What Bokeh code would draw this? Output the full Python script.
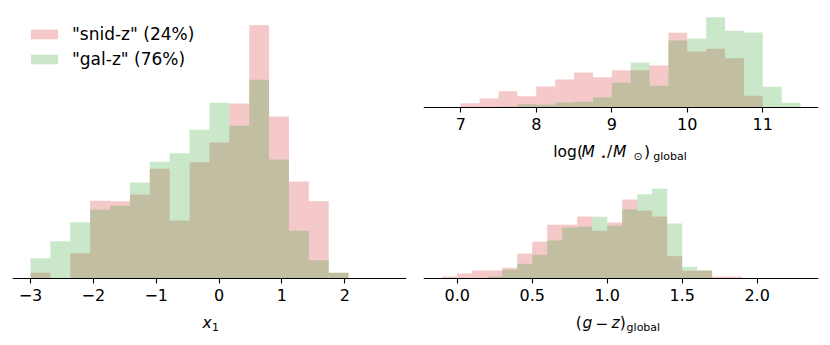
import numpy as np
from bokeh.plotting import figure
from bokeh.layouts import row, column
from bokeh.models import Range1d, Label, Legend, LegendItem, FixedTicker
from bokeh.embed import file_html
from bokeh.resources import INLINE

# ---------------- data (histogram heights, arbitrary units) ----------------
x1_edges = np.linspace(-3.0, 2.06, 17)
x1_snid = [17, 0, 76, 233, 232, 252, 329, 174, 349, 408, 525, 760, 486, 291, 232, 17]
x1_gal = [61, 112, 169, 206, 218, 288, 350, 376, 446, 527, 458, 596, 357, 143, 55, 17]

mass_edges = np.linspace(7.0, 11.5, 19)
mass_snid = [13, 27, 49, 34, 63, 84, 105, 91, 112, 112, 126, 224, 168, 176, 148, 35, 0, 0]
mass_gal = [0, 0, 3, 10, 8, 15, 17, 31, 74, 135, 65, 201, 207, 271, 230, 225, 62, 14]

gz_edges = np.linspace(-0.1, 1.9, 21)
gz_snid = [6, 15, 24, 24, 32, 75, 110, 161, 161, 186, 143, 168, 237, 204, 186, 67, 23, 24, 6, 6]
gz_gal = [0, 0, 0, 6, 26, 44, 71, 114, 153, 155, 185, 158, 208, 253, 269, 165, 35, 24, 0, 0]

x1_ticks = [-3, -2, -1, 0, 1, 2]
mass_ticks = [7, 8, 9, 10, 11]
gz_ticks = [0.0, 0.5, 1.0, 1.5, 2.0]

labels = ['"snid-z" (24%)', '"gal-z" (76%)']
PINK = "#d62728"
GREEN = "#2ca02c"
ALPHA = 0.25
FONT = "DejaVu Sans"
TICK_SIZE = "16px"
MAIN = 15.5
SUB = 11


def make_fig(width, height, xr, yr, mb_left, mb_right, mb_top, mb_bottom):
    p = figure(width=width, height=height, x_range=Range1d(*xr), y_range=Range1d(*yr),
               output_backend="svg", toolbar_location=None, y_axis_location=None,
               min_border_left=mb_left, min_border_right=mb_right,
               min_border_top=mb_top, min_border_bottom=mb_bottom)
    p.outline_line_color = None
    p.xgrid.visible = False
    p.ygrid.visible = False
    p.background_fill_color = "white"
    p.border_fill_color = "white"
    ax = p.xaxis[0]
    ax.fixed_location = 0
    ax.axis_line_color = "black"
    ax.axis_line_width = 1.1
    ax.major_tick_line_color = "black"
    ax.major_tick_line_width = 1.1
    ax.major_tick_out = 5
    ax.major_tick_in = 0
    ax.minor_tick_line_color = None
    ax.major_label_text_font = FONT
    ax.major_label_text_font_size = TICK_SIZE
    ax.major_label_text_color = "black"
    ax.major_label_standoff = 5
    return p


def hist(p, edges, snid, gal):
    r1 = p.quad(left=edges[:-1], right=edges[1:], bottom=0, top=snid,
                fill_color=PINK, fill_alpha=ALPHA, line_color=None)
    r2 = p.quad(left=edges[:-1], right=edges[1:], bottom=0, top=gal,
                fill_color=GREEN, fill_alpha=ALPHA, line_color=None)
    return r1, r2


def set_ticks(p, ticks, fmt):
    p.xaxis[0].ticker = FixedTicker(ticks=ticks)
    p.xaxis[0].major_label_overrides = {t: fmt(t).replace("-", "\u2212") for t in ticks}


def add_pieces(p, xc, pieces, fc):
    # pieces: (text, page_x, size, italic, depth of baseline below axis)
    for txt, px, size, ital, dy in pieces:
        p.add_layout(Label(x=xc, y=0, x_offset=px - fc, y_offset=-dy, text=txt,
                           text_font=FONT, text_font_size=f"{size}px",
                           text_font_style="italic" if ital else "normal",
                           text_align="left", text_baseline="alphabetic",
                           text_color="black"))


# ---------------- left: x1 ----------------
xr1 = (-3.286, 2.981)
p1 = make_fig(411, 342, xr1, (-192, 798), 12, 5, 12, 0)
r1, r2 = hist(p1, x1_edges, x1_snid, x1_gal)
set_ticks(p1, x1_ticks, lambda t: str(t))
legend = Legend(items=[LegendItem(label=labels[0], renderers=[r1]),
                       LegendItem(label=labels[1], renderers=[r2])],
                location=(15, 273), padding=0, margin=0, spacing=5,
                glyph_width=34, glyph_height=12, label_height=20,
                label_standoff=11, label_text_font=FONT, label_text_font_size="17px",
                label_text_color="black", border_line_alpha=0, background_fill_alpha=0)
p1.add_layout(legend)
add_pieces(p1, sum(xr1) / 2, [("x", 202, MAIN, True, 44.5),
                              ("1", 211.5, SUB, False, 48.5)], 209)

# ---------------- top right: mass ----------------
xr2 = (6.506, 11.738)
p2 = make_fig(412, 162, xr2, (-165, 285), 12, 5, 12, 0)
hist(p2, mass_edges, mass_snid, mass_gal)
set_ticks(p2, mass_ticks, lambda t: str(t))
add_pieces(p2, sum(xr2) / 2, [("log(", 552.8, MAIN, False, 44.5),
                              ("M", 581, MAIN, True, 44.5),
                              ("\u22c6", 599.5, SUB, False, 48.5),
                              ("/", 606.5, MAIN, False, 44.5),
                              ("M", 612.5, MAIN, True, 44.5),
                              ("\u2299", 633, SUB, False, 48.5),
                              (")", 643.5, MAIN, False, 44.5),
                              ("global", 652.7, SUB, False, 49)], 620.5)

# ---------------- bottom right: g-z ----------------
xr3 = (-0.2247, 2.409)
p3 = make_fig(412, 180, xr3, (-192, 282), 12, 5, 22, 0)
hist(p3, gz_edges, gz_snid, gz_gal)
set_ticks(p3, gz_ticks, lambda t: f"{t:.1f}")
add_pieces(p3, sum(xr3) / 2, [("(", 575.2, MAIN, False, 44.5),
                              ("g", 582, MAIN, True, 44.5),
                              ("\u2212", 595, MAIN, False, 44.5),
                              ("z", 611, MAIN, True, 44.5),
                              (")", 619.2, MAIN, False, 44.5),
                              ("global", 626.1, SUB, False, 49)], 620.5)

layout = row(p1, column(p2, p3))
open("out.html", "w").write(file_html(layout, INLINE))
